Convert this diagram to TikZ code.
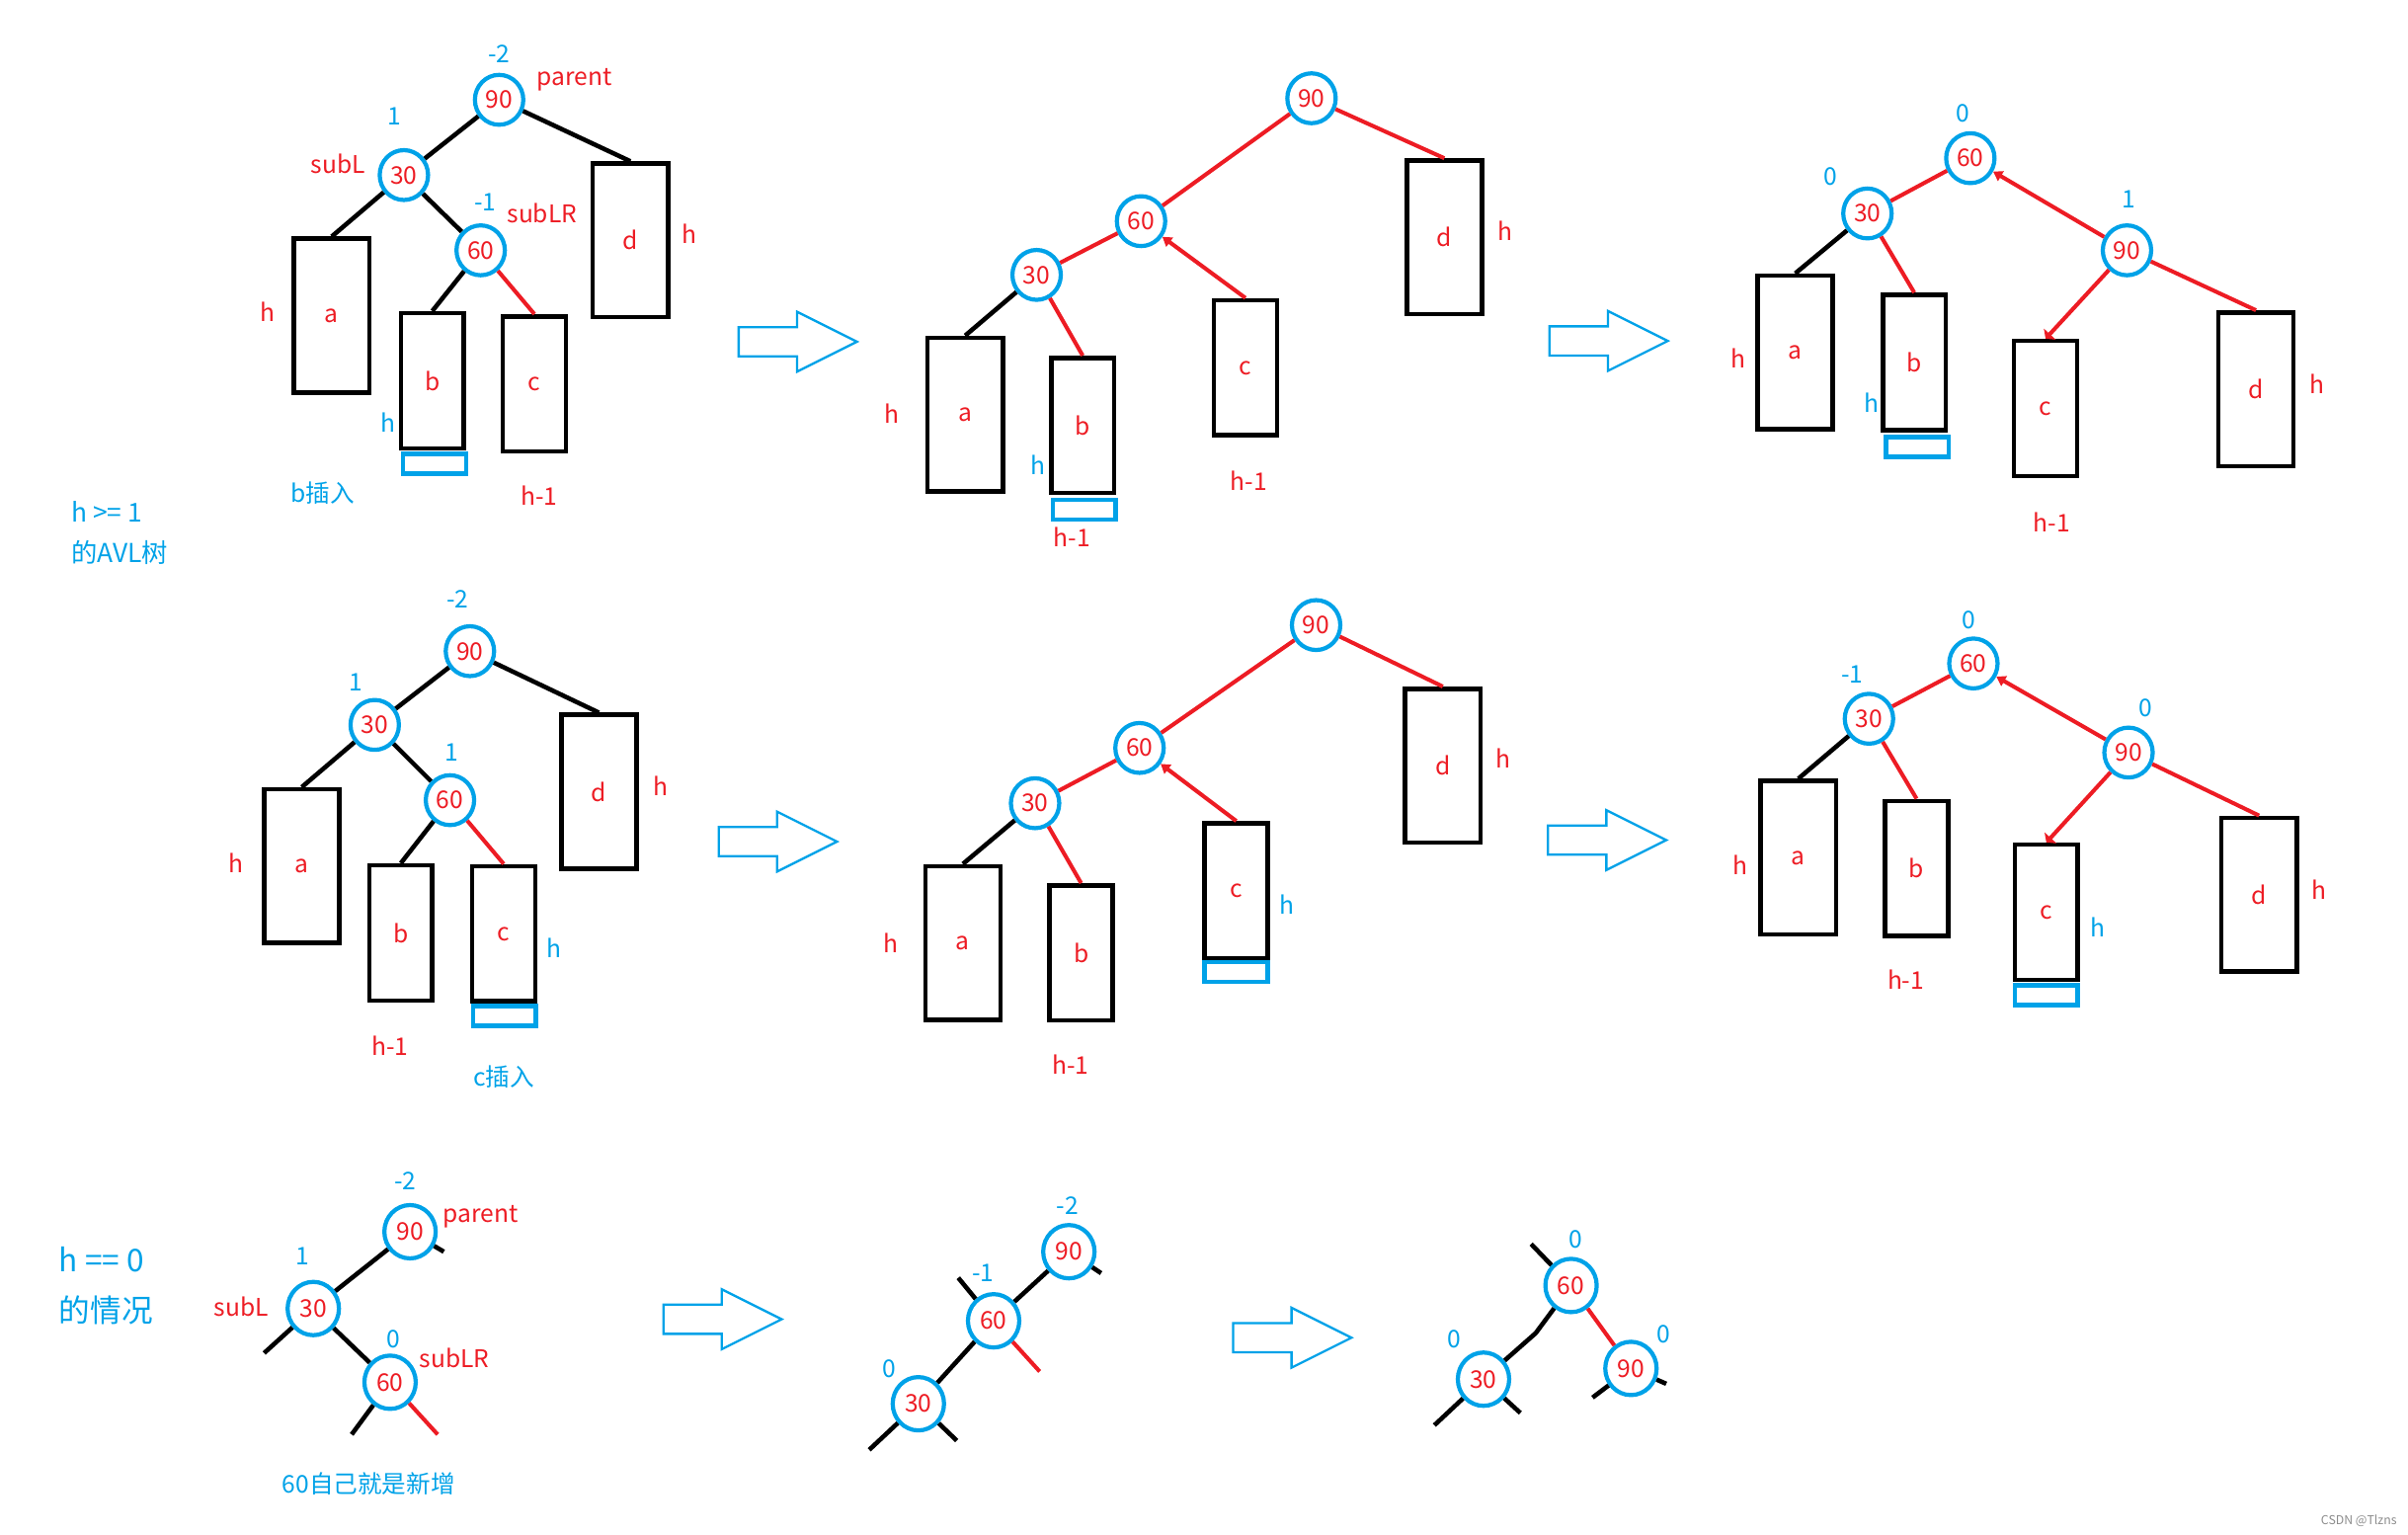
\documentclass[tikz,border=0pt]{standalone}
\usepackage{fontspec}
\setmainfont{Noto Sans CJK SC}
\usetikzlibrary{arrows.meta,shapes.geometric}
\definecolor{pred}{HTML}{ED1C24}
\definecolor{pblue}{HTML}{00A2E8}

\tikzset{
  lbl/.style={font=\fontsize{7}{8}\selectfont, inner sep=0pt},
  redtxt/.style={lbl, text=pred},
  bluetxt/.style={lbl, text=pblue},
  key/.style={ellipse, draw=pblue, line width=1.2pt, minimum width=0.49cm,
    minimum height=0.505cm, inner sep=0pt, text=pred, font=\fontsize{7}{8}\selectfont},
  keyB/.style={key, minimum width=0.52cm, minimum height=0.54cm},
  tallbox/.style={rectangle, draw=black, line width=1.3pt, minimum width=0.762cm,
    minimum height=1.555cm, inner sep=0pt, text=pred, font=\fontsize{7}{8}\selectfont},
  shortbox/.style={tallbox, minimum width=0.638cm, minimum height=1.368cm},
  newbox/.style={rectangle, draw=pblue, line width=1.3pt, minimum width=0.638cm,
    minimum height=0.2cm, inner sep=0pt},
  blk/.style={draw=black, line width=1.3pt},
  redl/.style={draw=pred, line width=1.15pt},
  redtip/.style={redl, -{Triangle[length=2.6pt,width=3.2pt]}},
  redbar/.style={redl, -{Triangle[length=1.8pt,width=4.6pt]}},
  hollow/.style={draw=pblue, line width=0.65pt, line join=miter},
  fat/.pic={\draw[hollow] (0,-9.5) -- (38,-9.5) -- (38,-19.5) -- (77,0)
    -- (38,19.5) -- (38,9.5) -- (0,9.5) -- cycle;}
}

\begin{document}
\begin{tikzpicture}[x=0.01555cm, y=-0.01555cm]
\useasboundingbox (0,0) rectangle (1568,999);

% ---------- row 1, tree before rotation (b inserted) ----------
\node[key] (p1n90) at (325,65) {90};
\node[key] (p1n30) at (263,114) {30};
\node[key] (p1n60) at (313,163) {60};
\node[tallbox] (p1a) at (216,205.5) {a};
\node[shortbox] (p1b) at (281.5,248) {b};
\node[shortbox] (p1c) at (348,250) {c};
\node[tallbox] (p1d) at (410.5,156.5) {d};
\node[newbox] (p1new) at (283,302) {};
\draw[blk] (p1n90) -- (p1n30);
\draw[blk] (p1n90) -- (p1d.north);
\draw[blk] (p1n30) -- (p1a.north);
\draw[blk] (p1n30) -- (p1n60);
\draw[blk] (p1n60) -- (p1b.north);
\draw[redl] (p1n60) -- (p1c.north);
\node[bluetxt] (p1t1) at (325,35) {-2};
\node[bluetxt] (p1t2) at (257,76) {1};
\node[bluetxt] (p1t3) at (316,132) {-1};
\node[bluetxt] (p1t4) at (253,275) {h};
\node[bluetxt] (p1t5) at (210,321) {b插入};
\node[redtxt] (p1t6) at (374,52) {parent};
\node[redtxt] (p1t7) at (220,107) {subL};
\node[redtxt] (p1t8) at (353,139) {subLR};
\node[redtxt] (p1t9) at (174,203) {h};
\node[redtxt] (p1t10) at (351,323) {h-1};
\node[redtxt] (p1t11) at (449,152) {h};

\node[bluetxt, anchor=west, font=\fontsize{7.5}{9}\selectfont] (cap1a) at (46,333) {h >= 1};
\node[bluetxt, anchor=west, font=\fontsize{7.5}{9}\selectfont] (cap1b) at (46,360) {的AVL树};

\pic (arr1) at (481,222.5) {fat};

% ---------- row 1, relinking ----------
\node[key] (p2n90) at (854,64) {90};
\node[key] (p2n60) at (743,144) {60};
\node[key] (p2n30) at (675,179) {30};
\node[tallbox] (p2a) at (628.5,270) {a};
\node[shortbox] (p2b) at (705,277) {b};
\node[shortbox] (p2c) at (811,239.5) {c};
\node[tallbox] (p2d) at (940.5,154.5) {d};
\node[newbox] (p2new) at (706,332) {};
\draw[redl] (p2n90) -- (p2n60);
\draw[redl] (p2n90) -- (p2d.north);
\draw[redl] (p2n60) -- (p2n30);
\draw[redtip] (p2c.north) -- (p2n60);
\draw[blk] (p2n30) -- (p2a.north);
\draw[redl] (p2n30) -- (p2b.north);
\node[redtxt] (p2t1) at (581,269) {h};
\node[bluetxt] (p2t2) at (676,303) {h};
\node[redtxt] (p2t3) at (698,350) {h-1};
\node[redtxt] (p2t4) at (813,313) {h-1};
\node[redtxt] (p2t5) at (980,150) {h};

\pic (arr2) at (1009,222) {fat};

% ---------- row 1, after double rotation ----------
\node[key] (p3n60) at (1283,103) {60};
\node[key] (p3n30) at (1216,139) {30};
\node[key] (p3n90) at (1385,163) {90};
\node[tallbox] (p3a) at (1169,229.5) {a};
\node[shortbox] (p3b) at (1246.5,236) {b};
\node[shortbox] (p3c) at (1332,266) {c};
\node[tallbox] (p3d) at (1469,253.5) {d};
\node[newbox] (p3new) at (1248.5,291) {};
\draw[redl] (p3n60) -- (p3n30);
\draw[redtip] (p3n90) -- (p3n60);
\draw[blk] (p3n30) -- (p3a.north);
\draw[redl] (p3n30) -- (p3b.north);
\draw[redbar] (p3n90) -- (p3c.north);
\draw[redl] (p3n90) -- (p3d.north);
\node[bluetxt] (p3t1) at (1278,74) {0};
\node[bluetxt] (p3t2) at (1192,115) {0};
\node[bluetxt] (p3t3) at (1386,130) {1};
\node[bluetxt] (p3t4) at (1219,262) {h};
\node[redtxt] (p3t5) at (1132,233) {h};
\node[redtxt] (p3t6) at (1336,340) {h-1};
\node[redtxt] (p3t7) at (1509,250) {h};

% ---------- row 2, tree before rotation (c inserted) ----------
\node[key] (p4n90) at (306,424) {90};
\node[key] (p4n30) at (244,472) {30};
\node[key] (p4n60) at (293,521) {60};
\node[tallbox] (p4a) at (196.5,564) {a};
\node[shortbox] (p4b) at (261,607.5) {b};
\node[shortbox] (p4c) at (328,608) {c};
\node[tallbox] (p4d) at (390,515.5) {d};
\node[newbox] (p4new) at (328.5,661.5) {};
\draw[blk] (p4n90) -- (p4n30);
\draw[blk] (p4n90) -- (p4d.north);
\draw[blk] (p4n30) -- (p4a.north);
\draw[blk] (p4n30) -- (p4n60);
\draw[blk] (p4n60) -- (p4b.north);
\draw[redl] (p4n60) -- (p4c.north);
\node[bluetxt] (p4t1) at (298,390) {-2};
\node[bluetxt] (p4t2) at (232,444) {1};
\node[bluetxt] (p4t3) at (294,490) {1};
\node[bluetxt] (p4t4) at (361,617) {h};
\node[bluetxt] (p4t5) at (328,701) {c插入};
\node[redtxt] (p4t6) at (154,562) {h};
\node[redtxt] (p4t7) at (254,681) {h-1};
\node[redtxt] (p4t8) at (430,512) {h};

\pic (arr3) at (468,548) {fat};

% ---------- row 2, relinking ----------
\node[key] (p5n90) at (857,407) {90};
\node[key] (p5n60) at (742,487) {60};
\node[key] (p5n30) at (674,523) {30};
\node[tallbox] (p5a) at (627,614) {a};
\node[shortbox] (p5b) at (704,620.5) {b};
\node[shortbox] (p5c) at (805,580) {c};
\node[tallbox] (p5d) at (939.5,498.5) {d};
\node[newbox] (p5new) at (805,633) {};
\draw[redl] (p5n90) -- (p5n60);
\draw[redl] (p5n90) -- (p5d.north);
\draw[redl] (p5n60) -- (p5n30);
\draw[redtip] (p5c.north) -- (p5n60);
\draw[blk] (p5n30) -- (p5a.north);
\draw[redl] (p5n30) -- (p5b.north);
\node[redtxt] (p5t1) at (580,614) {h};
\node[redtxt] (p5t2) at (697,693) {h-1};
\node[bluetxt] (p5t3) at (838,589) {h};
\node[redtxt] (p5t4) at (979,494) {h};

\pic (arr4) at (1008,547) {fat};

% ---------- row 2, after double rotation ----------
\node[key] (p6n60) at (1285,432) {60};
\node[key] (p6n30) at (1217,468) {30};
\node[key] (p6n90) at (1386,490) {90};
\node[tallbox] (p6a) at (1171,558.5) {a};
\node[shortbox] (p6b) at (1248,565.5) {b};
\node[shortbox] (p6c) at (1332.5,594) {c};
\node[tallbox] (p6d) at (1471,582.5) {d};
\node[newbox] (p6new) at (1332.5,648) {};
\draw[redl] (p6n60) -- (p6n30);
\draw[redtip] (p6n90) -- (p6n60);
\draw[blk] (p6n30) -- (p6a.north);
\draw[redl] (p6n30) -- (p6b.north);
\draw[redbar] (p6n90) -- (p6c.north);
\draw[redl] (p6n90) -- (p6d.north);
\node[bluetxt] (p6t1) at (1282,404) {0};
\node[bluetxt] (p6t2) at (1206,439) {-1};
\node[bluetxt] (p6t3) at (1397,461) {0};
\node[bluetxt] (p6t4) at (1366,604) {h};
\node[redtxt] (p6t5) at (1133,563) {h};
\node[redtxt] (p6t6) at (1241,638) {h-1};
\node[redtxt] (p6t7) at (1510,579) {h};

% ---------- row 3, h == 0 ----------
\node[bluetxt, anchor=west, font=\fontsize{9}{11}\selectfont] (cap2a) at (38,820) {h == 0};
\node[bluetxt, anchor=west, font=\fontsize{9}{11}\selectfont] (cap2b) at (38,853) {的情况};

\node[keyB] (b1n90) at (267,802) {90};
\node[keyB] (b1n30) at (204,852) {30};
\node[keyB] (b1n60) at (254,900) {60};
\coordinate (b1s90) at (289,815);
\coordinate (b1s30) at (172,881);
\coordinate (b1s60l) at (229,934);
\coordinate (b1s60r) at (285,934);
\draw[blk] (b1n90) -- (b1n30);
\draw[blk] (b1n30) -- (b1n60);
\draw[blk] (b1n90) -- (b1s90);
\draw[blk] (b1n30) -- (b1s30);
\draw[blk] (b1n60) -- (b1s60l);
\draw[redl] (b1n60) -- (b1s60r);
\node[bluetxt] (b1t1) at (264,769) {-2};
\node[bluetxt] (b1t2) at (197,818) {1};
\node[bluetxt] (b1t3) at (256,872) {0};
\node[bluetxt] (b1t4) at (240,966) {60自己就是新增};
\node[redtxt] (b1t5) at (313,792) {parent};
\node[redtxt] (b1t6) at (157,851) {subL};
\node[redtxt] (b1t7) at (296,884) {subLR};

\pic (arr5) at (432,859) {fat};

\node[keyB] (b2n90) at (696,815) {90};
\node[keyB] (b2n60) at (647,860) {60};
\node[keyB] (b2n30) at (598,914) {30};
\coordinate (b2s90) at (717,829);
\coordinate (b2s60u) at (624,832);
\coordinate (b2s60r) at (677,893);
\coordinate (b2s30l) at (566,944);
\coordinate (b2s30r) at (623,938);
\draw[blk] (b2n90) -- (b2n60);
\draw[blk] (b2n60) -- (b2n30);
\draw[blk] (b2n90) -- (b2s90);
\draw[blk] (b2n60) -- (b2s60u);
\draw[redl] (b2n60) -- (b2s60r);
\draw[blk] (b2n30) -- (b2s30l);
\draw[blk] (b2n30) -- (b2s30r);
\node[bluetxt] (b2t1) at (695,785) {-2};
\node[bluetxt] (b2t2) at (640,829) {-1};
\node[bluetxt] (b2t3) at (579,891) {0};

\pic (arr6) at (803,871) {fat};

\node[keyB] (b3n60) at (1023,837) {60};
\node[keyB] (b3n30) at (966,898) {30};
\node[keyB] (b3n90) at (1062,891) {90};
\coordinate (b3s60) at (997,810);
\coordinate (b3kink) at (1000,868);
\coordinate (b3s30l) at (934,928);
\coordinate (b3s30r) at (990,920);
\coordinate (b3s90l) at (1037,910);
\coordinate (b3s90r) at (1085,901);
\draw[blk] (b3n60) -- (b3s60);
\draw[blk] (b3n60) -- (b3kink) -- (b3n30);
\draw[redl] (b3n60) -- (b3n90);
\draw[blk] (b3n30) -- (b3s30l);
\draw[blk] (b3n30) -- (b3s30r);
\draw[blk] (b3n90) -- (b3s90l);
\draw[blk] (b3n90) -- (b3s90r);
\node[bluetxt] (b3t1) at (1026,807) {0};
\node[bluetxt] (b3t2) at (947,872) {0};
\node[bluetxt] (b3t3) at (1083,869) {0};

\node[lbl, text=black!45, font=\fontsize{3.5}{4}\selectfont] (mark) at (1536,990) {CSDN @Tlzns};
\end{tikzpicture}
\end{document}
